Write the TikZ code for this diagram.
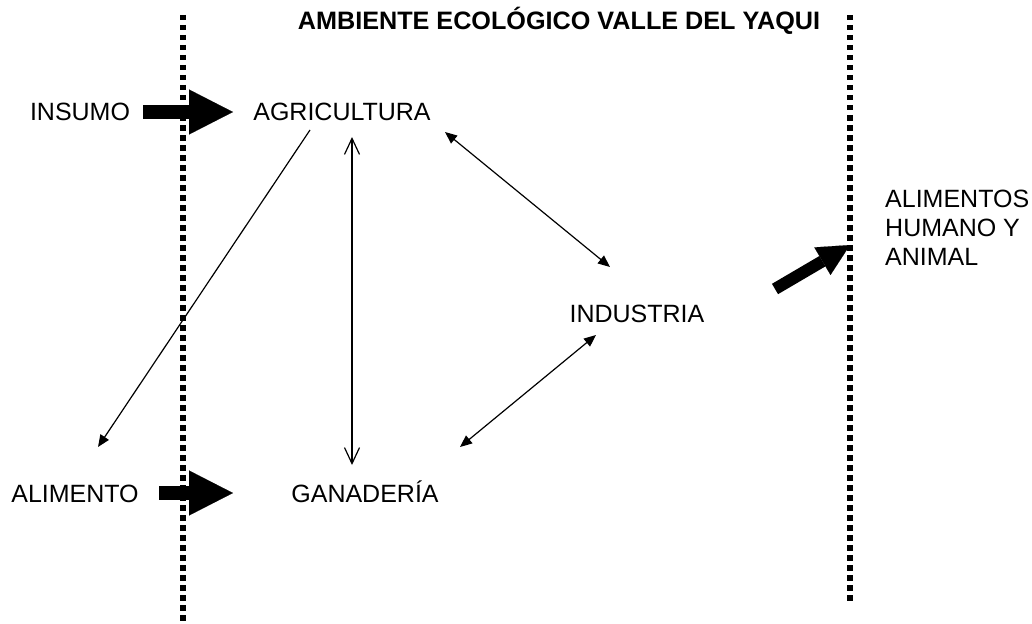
\documentclass[tikz,border=0pt]{standalone}
\usepackage{fontspec}
\setmainfont{Liberation Sans}
\usetikzlibrary{arrows.meta}

\begin{document}
\begin{tikzpicture}[
        x=1pt, y=-1pt,
        label_text/.style={inner sep=0pt, text height=18pt, text depth=0pt, font=\fontsize{25}{29}\selectfont},
        title_text/.style={inner sep=0pt, font=\bfseries\fontsize{25.2}{29}\selectfont},
        border_line/.style={line width=5.5pt, dash pattern=on 5.5pt off 4.5pt},
        big_arrow/.style={line width=14pt, -{Triangle[length=44pt,width=45pt,line width=0.1pt]}},
        mid_arrow/.style={line width=12pt, -{Triangle[length=32pt,width=32pt,line width=0.1pt]}},
        link_both/.style={line width=1.2pt, {Triangle[length=12pt,width=10pt]}-{Triangle[length=12pt,width=10pt]}},
        link_one/.style={line width=1.2pt, -{Triangle[length=12pt,width=10pt]}},
        link_open/.style={line width=1.2pt, {Straight Barb[length=16pt,width=15pt]}-{Straight Barb[length=16pt,width=15pt]}}
    ]
        \useasboundingbox (0,0) rectangle (1032,623);

        % Limits of the ecological environment
        \coordinate (left_top) at (183,15);
        \coordinate (left_bot) at (183,623);
        \coordinate (right_top) at (850,15);
        \coordinate (right_bot) at (850,602);
        \draw[border_line] (left_top) -- (left_bot);
        \draw[border_line] (right_top) -- (right_bot);

        \node[title_text] (title) at (559,21) {AMBIENTE ECOLÓGICO VALLE DEL YAQUI};

        % Inputs from outside
        \node[label_text] (insumo) at (80,112) {INSUMO};
        \node[label_text] (alimento) at (75,493) {ALIMENTO};

        % Activities inside the valley
        \node[label_text] (agricultura) at (342,112) {AGRICULTURA};
        \node[label_text] (ganaderia) at (365,493) {GANADERÍA};
        \node[label_text] (industria) at (637,313) {INDUSTRIA};

        % Output
        \node[label_text, text height=, text depth=, align=left, anchor=west] (alimentos) at (885,228) {ALIMENTOS\\HUMANO Y\\ANIMAL};

        \draw[big_arrow] ([shift={(63,0)}]insumo.center) -- ([shift={(-109,0)}]agricultura.center);
        \draw[big_arrow] ([shift={(84,0)}]alimento.center) -- ([shift={(-132,0)}]ganaderia.center);
        \draw[mid_arrow] ([shift={(138,-24)}]industria.center) -- ([shift={(-35,17)}]alimentos.west);

        % Links between activities
        \draw[link_open] ([shift={(10,25)}]agricultura.center) -- ([shift={(-13,-28)}]ganaderia.center);
        \draw[link_both] ([shift={(103,20)}]agricultura.center) -- ([shift={(-27,-46)}]industria.center);
        \draw[link_both] ([shift={(95,-46)}]ganaderia.center) -- ([shift={(-41,22)}]industria.center);
        \draw[link_one] ([shift={(-32,18)}]agricultura.center) -- ([shift={(23,-46)}]alimento.center);

    \end{tikzpicture}
\end{document}
